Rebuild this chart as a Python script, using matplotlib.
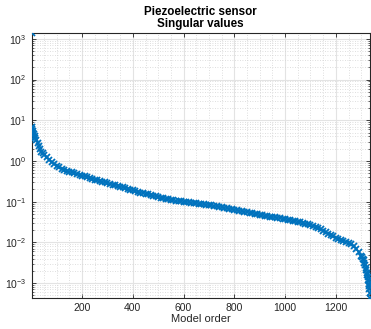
import numpy as np
import matplotlib
matplotlib.use("Agg")
import matplotlib.pyplot as plt
from matplotlib.ticker import FixedLocator, NullFormatter

plt.rcParams['font.family'] = ['Liberation Sans', 'DejaVu Sans']
plt.rcParams['mathtext.fontset'] = 'custom'
plt.rcParams['mathtext.rm'] = 'Liberation Sans'
plt.rcParams['mathtext.it'] = 'Liberation Sans:italic'
plt.rcParams['mathtext.bf'] = 'Liberation Sans:bold'

# singular values (model order -> value)
head_order = [1, 2, 4, 6, 8, 10, 13, 16, 20, 25, 30, 35, 40, 45, 50]
head_sv = [1400, 6.8, 6.0, 5.4, 4.9, 4.5, 4.1, 3.7, 3.2, 2.7, 2.3, 1.95, 1.7, 1.55, 1.42]

# every 10th model order from 60 to 1300
mid_sv = [
    1.22, 1.06, 0.94, 0.84, 0.76, 0.70, 0.65, 0.61, 0.58, 0.55,          # 60-150
    0.525, 0.50, 0.48, 0.46, 0.44, 0.42, 0.40, 0.38, 0.365, 0.35,       # 160-250
    0.335, 0.32, 0.31, 0.30, 0.285, 0.275, 0.262, 0.252, 0.243, 0.234,  # 260-350
    0.225, 0.216, 0.207, 0.199, 0.19, 0.182, 0.175, 0.168, 0.162, 0.157, # 360-450
    0.151, 0.146, 0.140, 0.135, 0.130, 0.126, 0.122, 0.118, 0.115, 0.112, # 460-550
    0.110, 0.107, 0.105, 0.103, 0.101, 0.099, 0.097, 0.095, 0.093, 0.091, # 560-650
    0.090, 0.088, 0.087, 0.085, 0.083, 0.081, 0.079, 0.077, 0.075, 0.073, # 660-750
    0.071, 0.069, 0.067, 0.065, 0.063, 0.061, 0.060, 0.058, 0.056, 0.055, # 760-850
    0.053, 0.052, 0.050, 0.049, 0.047, 0.046, 0.045, 0.044, 0.043, 0.042, # 860-950
    0.041, 0.040, 0.039, 0.038, 0.037, 0.036, 0.035, 0.034, 0.033, 0.032, # 960-1050
    0.031, 0.030, 0.029, 0.028, 0.027, 0.025, 0.024, 0.022, 0.021, 0.019, # 1060-1150
    0.018, 0.016, 0.015, 0.014, 0.013, 0.0123, 0.0116, 0.011, 0.0103, 0.0096, # 1160-1250
    0.0089, 0.0080, 0.0069, 0.0058, 0.0047,                             # 1260-1300
]
mid_order = list(range(60, 1301, 10))

tail_order = [1303, 1306, 1309, 1312, 1315, 1318, 1320, 1322, 1324, 1326,
              1328, 1329, 1330, 1331, 1332, 1333, 1334]
tail_sv = [0.0043, 0.0040, 0.0036, 0.0032, 0.0028, 0.0024, 0.0021, 0.0018, 0.0016, 0.0014,
           0.0012, 0.0011, 0.00095, 0.00085, 0.00072, 0.00058, 0.00043]

x_ticks = [200, 400, 600, 800, 1000, 1200]
y_ticks = [1e-3, 1e-2, 1e-1, 1e0, 1e1, 1e2, 1e3]
y_labels = ['$10^{-3}$', '$10^{-2}$', '$10^{-1}$', '$10^{0}$', '$10^{1}$', '$10^{2}$', '$10^{3}$']

order = np.array(head_order + mid_order + tail_order)
sv = np.array(head_sv + mid_sv + tail_sv)

blue = '#0072BD'
dark = '#262626'

fig = plt.figure(figsize=(3.71, 3.29), dpi=100)
ax = fig.add_axes([0.085, 0.094, 0.912, 0.806])

ax.semilogy(order, sv, 'x', color=blue, ms=4.6, mew=1.3, zorder=3)

ax.set_xlim(order.min(), order.max())
ax.set_ylim(sv.min(), sv.max())

ax.set_xticks(x_ticks)
ax.xaxis.set_minor_locator(FixedLocator(list(range(50, 1334, 50))))
ax.set_yticks(y_ticks, y_labels)
minor_y = [m * d for d in [1e-4, 1e-3, 1e-2, 1e-1, 1e0, 1e1, 1e2, 1e3] for m in range(2, 10)]
minor_y = [v for v in minor_y if sv.min() <= v <= sv.max()]
ax.yaxis.set_minor_locator(FixedLocator(minor_y))
ax.yaxis.set_minor_formatter(NullFormatter())

ax.grid(which='major', color='#e3e3e3', lw=0.8, ls='-')
ax.grid(which='minor', color='#d4d4d4', lw=0.6, ls=(0, (1, 2)))
ax.set_axisbelow(True)

for s in ax.spines.values():
    s.set_color(dark)
    s.set_linewidth(0.8)
ax.tick_params(which='both', direction='in', top=True, right=True, colors=dark,
               labelsize=7.5, labelcolor=dark)
ax.tick_params(which='major', length=3, width=0.6)
ax.tick_params(which='minor', length=1.6, width=0.5)
ax.tick_params(axis='x', which='minor', length=0)

ax.set_xlabel('Model order', fontsize=8, color=dark, labelpad=1)
ax.set_title('Piezoelectric sensor\nSingular values', fontsize=8.4, fontweight='bold',
             color='black', pad=4, linespacing=1.0)

fig.savefig('out.png', dpi=100)
